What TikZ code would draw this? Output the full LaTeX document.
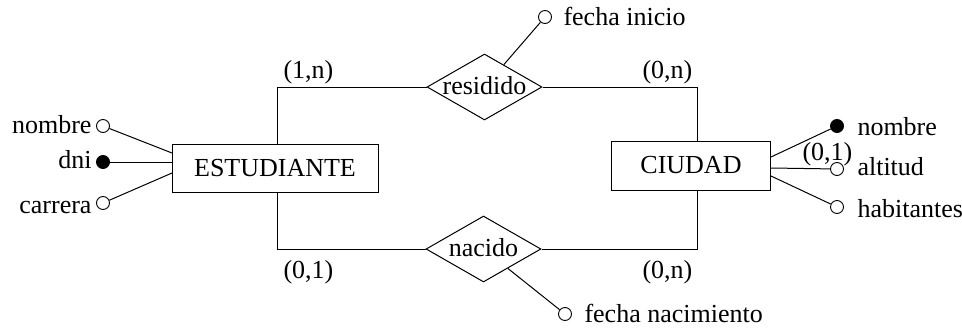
\documentclass[tikz,border=0pt]{standalone}
\usepackage{fontspec}
\setmainfont{Liberation Serif}
\usetikzlibrary{shapes.geometric}
\begin{document}
\begin{tikzpicture}[x=1pt,y=-1pt,line width=1pt,
  ent/.style={draw,rectangle,inner sep=0pt},
  rel/.style={draw,diamond,inner sep=0pt,minimum width=115pt,minimum height=66pt},
  attr/.style={draw,circle,inner sep=0pt,minimum size=13pt,line width=0.9pt},
  key/.style={attr,fill=black},
  txt/.style={inner sep=0pt,font=\fontsize{26}{31}\selectfont}]
\useasboundingbox (0,0) rectangle (962,327);
% entities
\node[ent,minimum width=206pt,minimum height=48pt] (E) at (275,168) {};
\node[txt] at (E) {ESTUDIANTE};
\node[ent,minimum width=159pt,minimum height=49pt] (C) at (691,165.5) {};
\node[txt] at (C) {CIUDAD};
% relationships
\node[rel] (R1) at (484.5,87) {};
\node[txt,anchor=base] at (484.5,94) {residido};
\node[rel] (R2) at (483.5,249) {};
\node[txt,anchor=base] at (483.5,256) {nacido};
% connectors
\coordinate (et) at (277,144);
\coordinate (eb) at (277,192);
\coordinate (ct) at (697,141);
\coordinate (cb) at (697,190);
\draw (et) |- (R1.west);
\draw (R1.east) -| (ct);
\draw (eb) |- (R2.west);
\draw (R2.east) -| (cb);
% cardinalities
\node[txt,anchor=base west] (c1) at (283,78) {(1,n)};
\node[txt,anchor=base west] (c2) at (642,78) {(0,n)};
\node[txt,anchor=base west] (c3) at (283,278) {(0,1)};
\node[txt,anchor=base west] (c4) at (642,278) {(0,n)};
% ESTUDIANTE attributes
\node[attr] (a1) at (103,126) {};
\node[key] (a2) at (103,162) {};
\node[attr] (a3) at (103,203) {};
\coordinate (e1) at (172,153);
\coordinate (e2) at (172,162);
\coordinate (e3) at (172,173);
\draw (a1) -- (e1);
\draw (a2) -- (e2);
\draw (a3) -- (e3);
\node[txt,anchor=base east] (t1) at (92,133) {nombre};
\node[txt,anchor=base east] (t2) at (92,168) {dni};
\node[txt,anchor=base east] (t3) at (92,213) {carrera};
% CIUDAD attributes
\node[key] (b1) at (837,126) {};
\node[attr] (b2) at (837,169) {};
\node[attr] (b3) at (837,207) {};
\coordinate (f1) at (771,157);
\coordinate (f2) at (771,168);
\coordinate (f3) at (771,176);
\draw (f1) -- (b1);
\draw (f2) -- (b2);
\draw (f3) -- (b3);
\node[txt,anchor=base west] (u1) at (857,135) {nombre};
\node[txt,anchor=base west] (u2) at (857,175) {altitud};
\node[txt,anchor=base west] (u3) at (857,217) {habitantes};
\node[txt,anchor=base west] (c5) at (802,160) {(0,1)};
% relationship attributes
\node[attr] (g1) at (545,17) {};
\draw (R1) -- (g1);
\node[txt,anchor=base west] (h1) at (563,25) {fecha inicio};
\node[attr] (g2) at (565,314) {};
\draw (R2) -- (g2);
\node[txt,anchor=base west] (h2) at (584,322) {fecha nacimiento};
\end{tikzpicture}
\end{document}
